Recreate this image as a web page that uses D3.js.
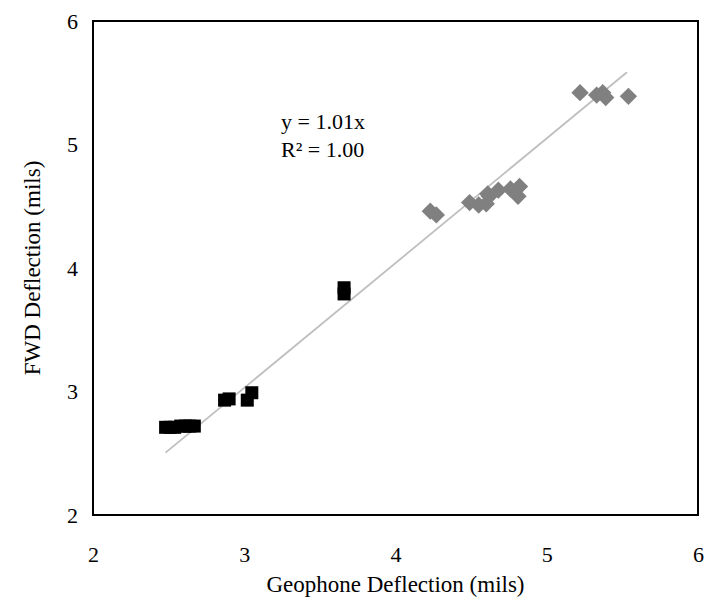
<!DOCTYPE html>
<html>
<head>
<meta charset="utf-8">
<script src="https://cdn.jsdelivr.net/npm/d3@7/dist/d3.min.js"></script>
<style>
  body { margin: 0; background: #fff; }
  svg { display: block; font-family: "Liberation Serif", "Times New Roman", serif; }
</style>
</head>
<body>
<svg id="chart" width="704" height="602"></svg>
<script>
// Geophone vs FWD deflection readings (mils)
const squareX = [2.48, 2.51, 2.54, 2.58, 2.61, 2.64, 2.67, 2.87, 2.90, 3.02, 3.05, 3.66, 3.66];
const squareY = [2.71, 2.71, 2.71, 2.72, 2.72, 2.72, 2.72, 2.93, 2.94, 2.93, 2.99, 3.79, 3.84];
const diamondX = [4.23, 4.27, 4.49, 4.55, 4.60, 4.61, 4.62, 4.68, 4.76, 4.81, 4.82, 5.22, 5.33, 5.37, 5.39, 5.54];
const diamondY = [4.46, 4.43, 4.53, 4.51, 4.52, 4.60, 4.58, 4.63, 4.64, 4.58, 4.66, 5.42, 5.40, 5.42, 5.38, 5.39];
const xTicks = [2, 3, 4, 5, 6];
const yTicks = [2, 3, 4, 5, 6];
const slope = 1.01;
const fitRange = [2.48, 5.53];
const eqLines = ["y = 1.01x", "R\u00B2 = 1.00"];

const svg = d3.select("#chart");
const m = { left: 93, top: 21, right: 698, bottom: 515 };

const x = d3.scaleLinear().domain([2, 6]).range([m.left, m.right]);
const y = d3.scaleLinear().domain([2, 6]).range([m.bottom, m.top]);

// plot frame
svg.append("rect")
  .attr("x", m.left).attr("y", m.top)
  .attr("width", m.right - m.left).attr("height", m.bottom - m.top)
  .attr("fill", "none").attr("stroke", "#000").attr("stroke-width", 2);

// axes (labels only)
const xAxis = svg.append("g")
  .attr("transform", `translate(0,${m.bottom})`)
  .call(d3.axisBottom(x).tickValues(xTicks).tickSize(0).tickPadding(31).tickFormat(d3.format("d")));
const yAxis = svg.append("g")
  .attr("transform", `translate(${m.left},0)`)
  .call(d3.axisLeft(y).tickValues(yTicks).tickSize(0).tickPadding(15).tickFormat(d3.format("d")));
[xAxis, yAxis].forEach(g => {
  g.select(".domain").remove();
  g.selectAll("text")
    .attr("font-family", "Liberation Serif, Times New Roman, serif")
    .attr("font-size", 22).attr("fill", "#000");
});

// linear fit through origin
svg.append("line")
  .attr("x1", x(fitRange[0])).attr("y1", y(slope * fitRange[0]))
  .attr("x2", x(fitRange[1])).attr("y2", y(slope * fitRange[1]))
  .attr("stroke", "#bfbfbf").attr("stroke-width", 1.8);

// black square readings
const sq = 13;
svg.append("g").selectAll("rect")
  .data(squareX.map((v, i) => [v, squareY[i]]))
  .join("rect")
  .attr("x", d => x(d[0]) - sq / 2)
  .attr("y", d => y(d[1]) - sq / 2)
  .attr("width", sq).attr("height", sq)
  .attr("fill", "#000");

// gray diamond readings
const diamond = d3.symbol().type(d3.symbolSquare).size(150);
svg.append("g").selectAll("path")
  .data(diamondX.map((v, i) => [v, diamondY[i]]))
  .join("path")
  .attr("d", diamond)
  .attr("transform", d => `translate(${x(d[0])},${y(d[1])}) rotate(45)`)
  .attr("fill", "#808080");

// fit equation
svg.append("g").selectAll("text")
  .data(eqLines)
  .join("text")
  .attr("x", 281)
  .attr("y", (d, i) => 129 + i * 28)
  .attr("font-size", 22)
  .attr("fill", "#000")
  .text(d => d);

// axis titles
svg.append("text")
  .attr("x", (m.left + m.right) / 2).attr("y", 592)
  .attr("text-anchor", "middle")
  .attr("font-size", 23)
  .text("Geophone Deflection (mils)");
svg.append("text")
  .attr("transform", `translate(40,${(m.top + m.bottom) / 2}) rotate(-90)`)
  .attr("text-anchor", "middle")
  .attr("font-size", 23)
  .text("FWD Deflection (mils)");
</script>
</body>
</html>
